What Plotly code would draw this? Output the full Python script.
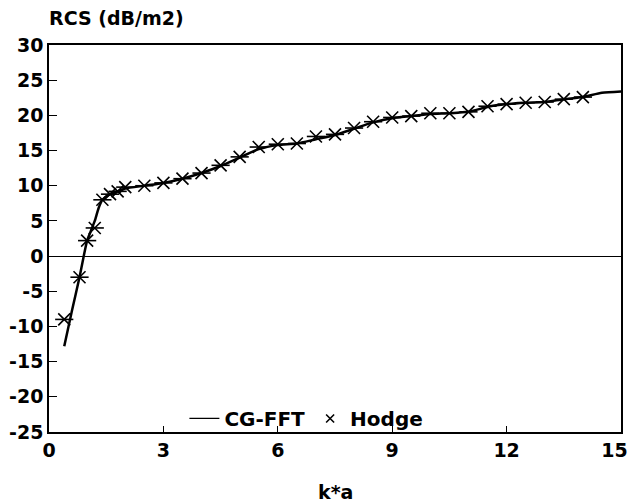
import plotly.graph_objects as go

# CG-FFT (solid line)
cg_x = [0.4, 0.6, 0.8, 0.9, 1.0, 1.1, 1.2, 1.3, 1.4, 1.6, 1.8, 2.0, 2.5, 3.0, 3.5, 4.0, 4.5, 5.0,
        5.5, 6.0, 6.5, 7.0, 7.5, 8.0, 8.5, 9.0, 9.5, 10.0, 10.5, 11.0, 11.5, 12.0, 12.5,
        13.0, 13.5, 14.0, 14.5, 15.0]
cg_y = [-12.8, -7.8, -3.0, -0.3, 2.2, 3.6, 5.0, 6.8, 8.0, 8.8, 9.2, 9.6, 10.0, 10.4, 11.0, 11.8,
        12.8, 14.0, 15.2, 15.8, 16.0, 16.6, 17.2, 18.1, 19.0, 19.6, 19.9, 20.2, 20.3, 20.5,
        21.2, 21.6, 21.8, 21.9, 22.3, 22.6, 23.2, 23.4]

# Hodge (asterisk markers)
hodge_x = [0.4, 0.8, 1.0, 1.2, 1.4, 1.6, 1.8, 2.0, 2.5, 3.0, 3.5, 4.0, 4.5, 5.0, 5.5, 6.0,
           6.5, 7.0, 7.5, 8.0, 8.5, 9.0, 9.5, 10.0, 10.5, 11.0, 11.5, 12.0, 12.5, 13.0,
           13.5, 14.0]
hodge_y = [-9.0, -3.0, 2.2, 4.0, 8.0, 8.8, 9.2, 9.8, 10.0, 10.4, 11.0, 11.8, 12.9, 14.1,
           15.5, 15.9, 16.0, 17.0, 17.3, 18.2, 19.1, 19.7, 19.9, 20.3, 20.3, 20.5, 21.3,
           21.6, 21.8, 21.9, 22.3, 22.6]

x_ticks = [0, 3, 6, 9, 12, 15]
x_labels = ["0", "3", "6", "9", "12", "15\u00a0\u00a0"]  # last label nudged left to stay visible
y_ticks = [30, 25, 20, 15, 10, 5, 0, -5, -10, -15, -20, -25]

FONT = "DejaVu Sans"

fig = go.Figure()
# data traces
fig.add_trace(go.Scatter(x=cg_x, y=cg_y, mode="lines", name="CG-FFT", showlegend=False,
                         line=dict(color="black", width=2.5, shape="spline", smoothing=0.6)))
fig.add_trace(go.Scatter(x=hodge_x, y=hodge_y, mode="markers", name="Hodge", showlegend=False,
                         marker=dict(symbol="x-thin-open", size=12, color="black",
                                     line=dict(color="black", width=1.6))))
fig.add_trace(go.Scatter(x=hodge_x, y=hodge_y, mode="markers", name="Hodge", showlegend=False,
                         marker=dict(symbol="line-ew-open", size=13, color="black",
                                     line=dict(color="black", width=1.6))))
# legend entries (styled like the reference's small legend glyphs)
fig.add_trace(go.Scatter(x=[None], y=[None], mode="lines", name="CG-FFT",
                         line=dict(color="black", width=1.2)))
fig.add_trace(go.Scatter(x=[None], y=[None], mode="markers", name="Hodge",
                         marker=dict(symbol="x-thin-open", size=8, color="black",
                                     line=dict(color="black", width=1.6))))

# the page body has an 8px margin, so the figure is sized to the visible area
fig.update_layout(
    width=619, height=496,
    margin=dict(l=41, r=6, t=37, b=72, autoexpand=False),
    paper_bgcolor="white", plot_bgcolor="white",
    font=dict(family=FONT, size=19, color="black", weight="bold"),
    showlegend=True,
    legend=dict(orientation="h", x=0.45, xanchor="center", y=0.035, yanchor="middle",
                bgcolor="rgba(0,0,0,0)", font=dict(size=20, family=FONT, weight="bold"),
                itemwidth=30),
    annotations=[
        dict(text="RCS (dB/m2)", x=0.0, y=1.0, xref="paper", yref="paper", showarrow=False,
             xanchor="left", yanchor="middle", yshift=27, xshift=-2,
             font=dict(size=19, family=FONT, weight="bold")),
        dict(text="k*a", x=0.5, y=-0.156, xref="paper", yref="paper", showarrow=False,
             xanchor="center", yanchor="middle",
             font=dict(size=19, family=FONT, weight="bold")),
    ],
)

fig.update_xaxes(range=[0, 15], tickvals=x_ticks, ticktext=x_labels,
                 ticks="inside", ticklen=6, tickcolor="black", tickwidth=1,
                 showline=True, linecolor="black", linewidth=1.5, mirror=True,
                 showgrid=False, zeroline=False, automargin=False,
                 ticklabeloverflow="allow",
                 tickfont=dict(size=19, family=FONT, weight="bold"))
fig.update_yaxes(range=[-25, 30], tickvals=y_ticks, ticktext=[str(v) for v in y_ticks],
                 ticks="inside", ticklen=8, tickcolor="black", tickwidth=1,
                 showline=True, linecolor="black", linewidth=1.5, mirror=True,
                 showgrid=False, zeroline=True, zerolinecolor="black", zerolinewidth=1.3,
                 automargin=False,
                 tickfont=dict(size=19, family=FONT, weight="bold"))

fig.write_html("out.html")
